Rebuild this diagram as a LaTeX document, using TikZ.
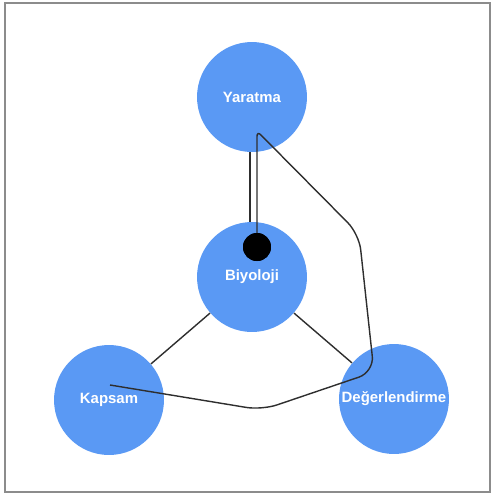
\documentclass[tikz,border=0pt]{standalone}
\usepackage{fontspec}
\setmainfont{Liberation Sans}
\usetikzlibrary{positioning}
\definecolor{topicBlue}{HTML}{5A99F4}
\definecolor{linkGray}{HTML}{2E2E2E}
\definecolor{frameGray}{HTML}{8C8C8C}
\tikzset{
  topic/.style={circle,fill=topicBlue,minimum size=2.2cm,inner sep=0pt,
                text=white,font=\fontsize{8.5}{10}\selectfont\bfseries},
  knob/.style={circle,fill=black,minimum size=0.56cm,inner sep=0pt},
  link/.style={linkGray,line width=0.8pt},
  frame/.style={frameGray,line width=1pt}
}

\begin{document}
\begin{tikzpicture}[x=0.02cm,y=-0.02cm]
    \useasboundingbox (0,0) rectangle (494,495);
    \draw[frame] (5,3) rectangle (490,492);

    \node[topic] (yar) at (252,97) {Yaratma};
    \node[topic] (bio) at (252,277) {Biyoloji};
    \node[topic] (kap) at (109,400) {Kapsam};
    \node[topic] (deg) at (394,399) {Değerlendirme};

    \draw[link] ([xshift=-0.04cm]yar.south) -- ([xshift=-0.04cm]bio.north);
    \draw[link] (bio) -- (kap);
    \draw[link] (bio) -- (deg);

    % loop from the knob round to Kapsam
    \node[knob] (dot) at (257,247) {};
    \coordinate (bend1) at (257,131);
    \coordinate (bend2) at (359,234);
    \coordinate (bend3) at (374,372);
    \coordinate (bend4) at (262,410);
    \coordinate (tail) at (110,385);
    \draw[link] (dot.center) [rounded corners=3pt] -- (bend1)
      [rounded corners=9pt] -- (bend2) -- (bend3) -- (bend4) -- (tail);
    \node[knob] at (dot) {};
\end{tikzpicture}
\end{document}
